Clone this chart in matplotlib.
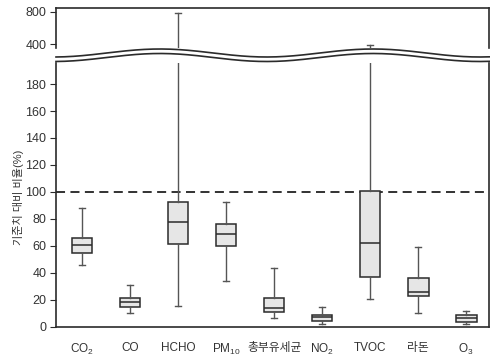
import numpy as np
import matplotlib
matplotlib.use('Agg')
import matplotlib.pyplot as plt

plt.rcParams['font.family'] = ['Liberation Sans', 'Noto Sans CJK KR']
plt.rcParams['mathtext.fontset'] = 'custom'
plt.rcParams['mathtext.rm'] = 'Liberation Sans'
plt.rcParams['mathtext.default'] = 'regular'

# data (% of standard)
labels = ['CO$_2$', 'CO', 'HCHO', 'PM$_{10}$', '총부유세균', 'NO$_2$', 'TVOC', '라돈', 'O$_3$']
whislo = [45.7, 10.0, 15.0, 34.0, 6.5, 2.0, 20.5, 10.5, 2.3]
q1 = [55.0, 14.5, 61.0, 60.0, 11.2, 4.3, 37.0, 22.8, 3.5]
med = [60.5, 18.0, 77.5, 68.5, 14.2, 7.0, 62.2, 25.5, 6.5]
q3 = [65.5, 21.3, 92.7, 76.5, 21.3, 9.0, 100.5, 36.0, 9.0]
whishi = [88.2, 31.0, 790.0, 92.5, 43.5, 14.5, 392.0, 58.8, 12.0]
standard = 100

stats = []
for i in range(len(labels)):
    stats.append(dict(label=labels[i], whislo=whislo[i], q1=q1[i], med=med[i],
                      q3=q3[i], whishi=whishi[i], fliers=[]))

W, H = 490, 360
fig = plt.figure(figsize=(4.9, 3.6), dpi=100)

x0, x1 = 56, 489.3
y_low_top, y_low_bot = 62.5, 326.7
y_up_top, y_up_bot = 8, 47.5
ax = fig.add_axes([x0 / W, (H - y_low_bot) / H, (x1 - x0) / W, (y_low_bot - y_low_top) / H])
axu = fig.add_axes([x0 / W, (H - y_up_bot) / H, (x1 - x0) / W, (y_up_bot - y_up_top) / H])

edge = '#2b2b2b'
props = dict(
    positions=range(len(labels)), widths=0.43, patch_artist=True, showfliers=False,
    boxprops=dict(facecolor='#e6e6e6', edgecolor=edge, linewidth=1.1),
    medianprops=dict(color=edge, linewidth=1.1),
    whiskerprops=dict(color='#555555', linewidth=1.0),
    capprops=dict(color='#555555', linewidth=1.0),
    capwidths=0.12,
)
ax.bxp(stats, **props)
axu.bxp(stats, **props)

ax.axhline(standard, color='#222222', linestyle=(0, (5, 3)), linewidth=1.3, zorder=0)

xlim = (-0.54, 8.48)
ax.set_xlim(xlim)
axu.set_xlim(xlim)
ax.set_ylim(0, 196)
axu.set_ylim(360, 849.5)

ax.set_yticks(range(0, 181, 20))
axu.set_yticks([400, 800])
ax.set_xticks(range(len(labels)))
ax.set_xticklabels(labels)
axu.set_xticks([])

for a in (ax, axu):
    for s in a.spines.values():
        s.set_color(edge)
        s.set_linewidth(1.2)
    a.tick_params(axis='y', length=4, width=0.8, color=edge, labelsize=9,
                  labelcolor='#333333', pad=3)
    a.patch.set_alpha(0)
ax.spines['top'].set_visible(False)
axu.spines['bottom'].set_visible(False)
ax.tick_params(axis='x', length=0, pad=11, labelsize=8.5, labelcolor='#333333')

fig.text(18 / W, (H - 197) / H, '기준치 대비 비율(%)', rotation=90,
         ha='center', va='center', fontsize=8, color='#333333')

# axis break: two wavy lines
ov = fig.add_axes([0, 0, 1, 1])
ov.set_xlim(0, W)
ov.set_ylim(H, 0)
ov.axis('off')
xs = np.linspace(x0, x1, 300)
wave = 53 - 4 * np.cos(2 * np.pi * (xs - 160) / 213)
ov.plot(xs, wave, color=edge, linewidth=1.2)
ov.plot(xs, wave + 4.5, color=edge, linewidth=1.2)

fig.savefig('out.png', dpi=100)
